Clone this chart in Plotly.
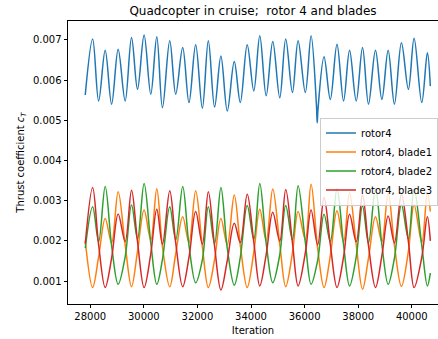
import plotly.graph_objects as go

# Iteration positions of the read key points (start, peaks / troughs, end)
iters = [27814, 28089, 28313, 28558, 28797, 29042, 29303, 29541, 29764, 30010,
         30259, 30483, 30695, 30967, 31190, 31450, 31685, 31934, 32184, 32407,
         32641, 32876, 33114, 33375, 33600, 33858, 34104, 34327, 34566, 34811,
         35072, 35295, 35545, 35757, 36027, 36241, 36486, 36725, 36959, 37208,
         37454, 37677, 37926, 38161, 38384, 38645, 38883, 39118, 39352, 39613,
         39873, 40086, 40372, 40581, 40692]

rotor_iters = [27814, 28089, 28313, 28558, 28797, 29042, 29303, 29541, 29764, 30010,
               30259, 30483, 30695, 30967, 31190, 31450, 31685, 31934, 32184, 32407,
               32641, 32876, 33114, 33375, 33600, 33858, 34104, 34327, 34566, 34811,
               35072, 35295, 35545, 35757, 36027, 36241, 36440, 36470, 36500, 36725,
               36959, 37208, 37454, 37677, 37926, 38161, 38384, 38645, 38883, 39118,
               39352, 39613, 39873, 40086, 40372, 40581, 40692]
rotor4 = [0.00563, 0.00702, 0.00548, 0.00674, 0.00540, 0.00677, 0.00548, 0.00706, 0.00577, 0.00712,
          0.00565, 0.00708, 0.00531, 0.00698, 0.00565, 0.00681, 0.00544, 0.00688, 0.00530, 0.00698,
          0.00533, 0.00660, 0.00523, 0.00646, 0.00544, 0.00688, 0.00573, 0.00710, 0.00561, 0.00696,
          0.00556, 0.00702, 0.00569, 0.00698, 0.00569, 0.00710, 0.00540, 0.00494, 0.00528, 0.00658,
          0.00552, 0.00689, 0.00548, 0.00674, 0.00548, 0.00681, 0.00540, 0.00674, 0.00552, 0.00674,
          0.00540, 0.00693, 0.00577, 0.00704, 0.00544, 0.00668, 0.00585]

blade1 = [0.00200, 0.00084, 0.00160, 0.00256, 0.00195, 0.00322, 0.00190, 0.00086, 0.00174, 0.00277,
          0.00202, 0.00330, 0.00185, 0.00086, 0.00168, 0.00260, 0.00196, 0.00325, 0.00185, 0.00084,
          0.00154, 0.00256, 0.00190, 0.00314, 0.00189, 0.00084, 0.00172, 0.00279, 0.00201, 0.00329,
          0.00192, 0.00086, 0.00170, 0.00273, 0.00203, 0.00341, 0.00182, 0.00084, 0.00163, 0.00275,
          0.00198, 0.00320, 0.00190, 0.00080, 0.00157, 0.00260, 0.00198, 0.00320, 0.00188, 0.00087,
          0.00174, 0.00290, 0.00196, 0.00320, 0.00273]

blade2 = [0.00182, 0.00285, 0.00198, 0.00335, 0.00188, 0.00092, 0.00160, 0.00289, 0.00205, 0.00343,
          0.00195, 0.00092, 0.00154, 0.00285, 0.00202, 0.00335, 0.00189, 0.00096, 0.00153, 0.00285,
          0.00193, 0.00333, 0.00182, 0.00090, 0.00159, 0.00288, 0.00204, 0.00343, 0.00194, 0.00096,
          0.00165, 0.00288, 0.00203, 0.00337, 0.00196, 0.00092, 0.00151, 0.00266, 0.00198, 0.00330,
          0.00190, 0.00088, 0.00160, 0.00287, 0.00195, 0.00330, 0.00191, 0.00092, 0.00157, 0.00290,
          0.00205, 0.00330, 0.00189, 0.00088, 0.00120]

blade3 = [0.00193, 0.00333, 0.00190, 0.00084, 0.00157, 0.00267, 0.00198, 0.00326, 0.00198, 0.00084,
          0.00168, 0.00279, 0.00192, 0.00325, 0.00195, 0.00086, 0.00159, 0.00273, 0.00192, 0.00322,
          0.00186, 0.00078, 0.00151, 0.00244, 0.00196, 0.00316, 0.00197, 0.00088, 0.00166, 0.00271,
          0.00199, 0.00328, 0.00196, 0.00088, 0.00170, 0.00277, 0.00190, 0.00308, 0.00191, 0.00084,
          0.00160, 0.00266, 0.00198, 0.00314, 0.00188, 0.00084, 0.00163, 0.00262, 0.00195, 0.00316,
          0.00198, 0.00084, 0.00159, 0.00260, 0.00200]

x_ticks = [28000, 30000, 32000, 34000, 36000, 38000, 40000]
y_ticks = [0.001, 0.002, 0.003, 0.004, 0.005, 0.006, 0.007]

series = [
    ("rotor4", rotor_iters, rotor4, "#1f77b4"),
    ("rotor4, blade1", iters, blade1, "#ff7f0e"),
    ("rotor4, blade2", iters, blade2, "#2ca02c"),
    ("rotor4, blade3", iters, blade3, "#d62728"),
]

fig = go.Figure()
for name, xs, ys, col in series:
    fig.add_trace(go.Scatter(x=xs, y=ys, mode="lines", name=name,
                             line=dict(color=col, width=1.5, shape="spline", smoothing=1.0)))

font = "DejaVu Sans"
fig.update_layout(
    width=438, height=339,
    margin=dict(l=68, r=0, t=21, b=35),
    paper_bgcolor="white", plot_bgcolor="white",
    font=dict(family=font, size=10, color="black"),
    title=dict(text="Quadcopter in cruise;\u00a0 rotor 4 and blades", x=0.5, xref="paper",
               xanchor="center", y=1 - 10.5 / 339, yref="container", yanchor="middle",
               font=dict(family=font, size=12, color="black")),
    showlegend=True,
    legend=dict(x=1.0, xanchor="right", y=0.5035, yanchor="middle",
                bgcolor="rgba(255,255,255,0.8)", bordercolor="#cccccc", borderwidth=1,
                font=dict(family=font, size=10, color="black"), tracegroupgap=0),
)
fig.update_xaxes(range=[27170, 40978], tickvals=x_ticks, ticktext=[str(v) for v in x_ticks],
                 showgrid=False, zeroline=False, showline=True, linecolor="black", linewidth=0.8,
                 mirror=True, ticks="outside", ticklen=3.5, tickwidth=0.8, tickcolor="black",
                 title=dict(text="Iteration", standoff=5, font=dict(family=font, size=10)))
fig.update_yaxes(range=[0.00043, 0.00747], tickvals=y_ticks, tickformat=".3f",
                 showgrid=False, zeroline=False, showline=True, linecolor="black", linewidth=0.8,
                 mirror=False, ticks="outside", ticklen=3.5, tickwidth=0.8, tickcolor="black",
                 title=dict(text="Thrust coefficient <i>c<sub>T</sub></i>", standoff=6,
                            font=dict(family=font, size=10)))

fig.write_html("out.html", config={"displayModeBar": False},
               post_script="document.body.style.margin='0';document.body.style.overflow='hidden';")
